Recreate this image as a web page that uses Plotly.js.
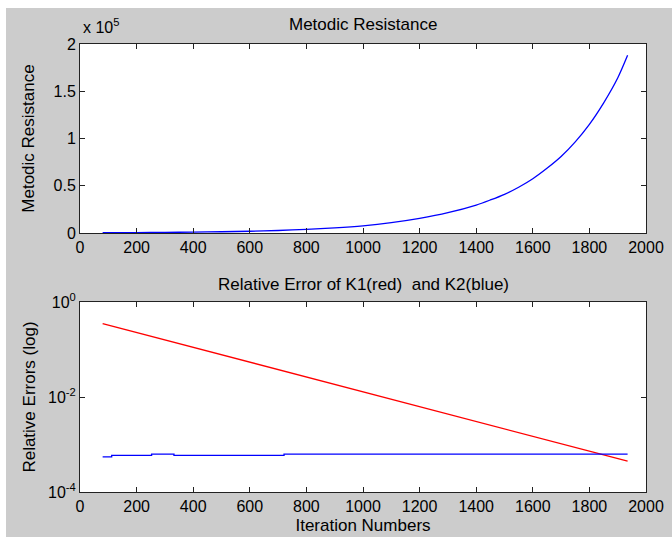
<!DOCTYPE html>
<html>
<head>
<meta charset="utf-8">
<script src="https://cdn.plot.ly/plotly-3.0.1.min.js"></script>
<style>
  html, body { margin: 0; padding: 0; background: #ffffff; width: 672px; height: 537px; overflow: hidden; }
  #chart { position: absolute; left: 6px; top: 8px; width: 666px; height: 529px; }
</style>
</head>
<body>
<div id="chart"></div>
<script>
// ---- Data ----
const iterTop = [80, 200, 300, 400, 500, 600, 700, 800, 900, 1000, 1100, 1200, 1300, 1400, 1450, 1500, 1550, 1600, 1650, 1700, 1750, 1800, 1850, 1900, 1935];
const resistance = [300, 500, 700, 1000, 1400, 1900, 2700, 3900, 5500, 7700, 11000, 15500, 21500, 29600, 35000, 41000, 48500, 57500, 68500, 81000, 96500, 115000, 137500, 164000, 188000];

const iterK1 = [80, 200, 300, 400, 500, 600, 700, 800, 900, 1000, 1100, 1200, 1300, 1400, 1500, 1600, 1700, 1800, 1900, 1935];
const errK1 = [0.352, 0.229, 0.160, 0.111, 0.0777, 0.0542, 0.0378, 0.0264, 0.0184, 0.0129, 0.00897, 0.00626, 0.00437, 0.00305, 0.00213, 0.00149, 0.00104, 0.000724, 0.000505, 0.000446];

const iterK2 = [80, 112, 253, 332, 721, 1935];
const errK2 = [0.00055, 0.00059, 0.00063, 0.00059, 0.00063, 0.00063];

const xTicks = [0, 200, 400, 600, 800, 1000, 1200, 1400, 1600, 1800, 2000];
const yTopTicks = [0, 50000, 100000, 150000, 200000];
const yTopLabels = ['0', '0.5', '1', '1.5', '2'];
const yLogTicks = [0.0001, 0.01, 1];
const yLogLabels = ['10<sup>-4</sup>', '10<sup>-2</sup>', '10<sup>0</sup>'];

const titleTop = 'Metodic Resistance';
const titleBottom = 'Relative Error of K1(red)  and K2(blue)';
const yLabelTop = 'Metodic Resistance';
const yLabelBottom = 'Relative Errors (log)';
const xLabelBottom = 'Iteration Numbers';

// ---- Plot ----
const FONT = 'Liberation Sans, Arial, sans-serif';
const axisCommon = {
  showgrid: false, zeroline: false, showline: true, linecolor: '#222', linewidth: 1,
  mirror: 'allticks', ticks: 'inside', ticklen: 5, tickcolor: '#222',
  tickfont: {family: FONT, size: 16, color: '#000'}
};

const traces = [
  {x: iterTop, y: resistance, type: 'scatter', mode: 'lines', line: {color: '#0000ff', width: 1.3, shape: 'spline', smoothing: 0.8}, xaxis: 'x', yaxis: 'y', hoverinfo: 'skip'},
  {x: iterK1, y: errK1, type: 'scatter', mode: 'lines', line: {color: '#ff0000', width: 1.3}, xaxis: 'x2', yaxis: 'y2', hoverinfo: 'skip'},
  {x: iterK2, y: errK2, type: 'scatter', mode: 'lines', line: {color: '#0000ff', width: 1.3, shape: 'hv'}, xaxis: 'x2', yaxis: 'y2', hoverinfo: 'skip'}
];

const layout = {
  width: 666, height: 529,
  margin: {l: 74, r: 26, t: 36, b: 45},
  paper_bgcolor: '#cccccc', plot_bgcolor: '#ffffff',
  showlegend: false,
  font: {family: FONT, size: 16, color: '#000'},
  xaxis: Object.assign({}, axisCommon, {domain: [0, 1], range: [0, 2000], tickvals: xTicks, anchor: 'y'}),
  yaxis: Object.assign({}, axisCommon, {domain: [0.578, 1], range: [0, 200000], tickvals: yTopTicks, ticktext: yTopLabels, anchor: 'x',
    title: {text: yLabelTop, font: {family: FONT, size: 17}, standoff: 14}}),
  xaxis2: Object.assign({}, axisCommon, {domain: [0, 1], range: [0, 2000], tickvals: xTicks, anchor: 'y2',
    title: {text: xLabelBottom, font: {family: FONT, size: 17}, standoff: 4}}),
  yaxis2: Object.assign({}, axisCommon, {domain: [0, 0.424], type: 'log', range: [-4, 0], tickvals: yLogTicks, ticktext: yLogLabels, anchor: 'x2',
    title: {text: yLabelBottom, font: {family: FONT, size: 17}, standoff: 8}}),
  annotations: [
    {text: titleTop, xref: 'paper', yref: 'paper', x: 0.5, y: 1, yshift: 20, xanchor: 'center', yanchor: 'middle', showarrow: false, font: {family: FONT, size: 17}},
    {text: titleBottom, xref: 'paper', yref: 'paper', x: 0.5, y: 0.424, yshift: 18, xanchor: 'center', yanchor: 'middle', showarrow: false, font: {family: FONT, size: 17}},
    {text: 'x 10<sup>5</sup>', xref: 'paper', yref: 'paper', x: 0, xshift: 1, y: 1, yshift: 6, xanchor: 'left', yanchor: 'bottom', showarrow: false, font: {family: FONT, size: 16}}
  ]
};

Plotly.newPlot('chart', traces, layout, {displayModeBar: false, staticPlot: true});
</script>
</body>
</html>
